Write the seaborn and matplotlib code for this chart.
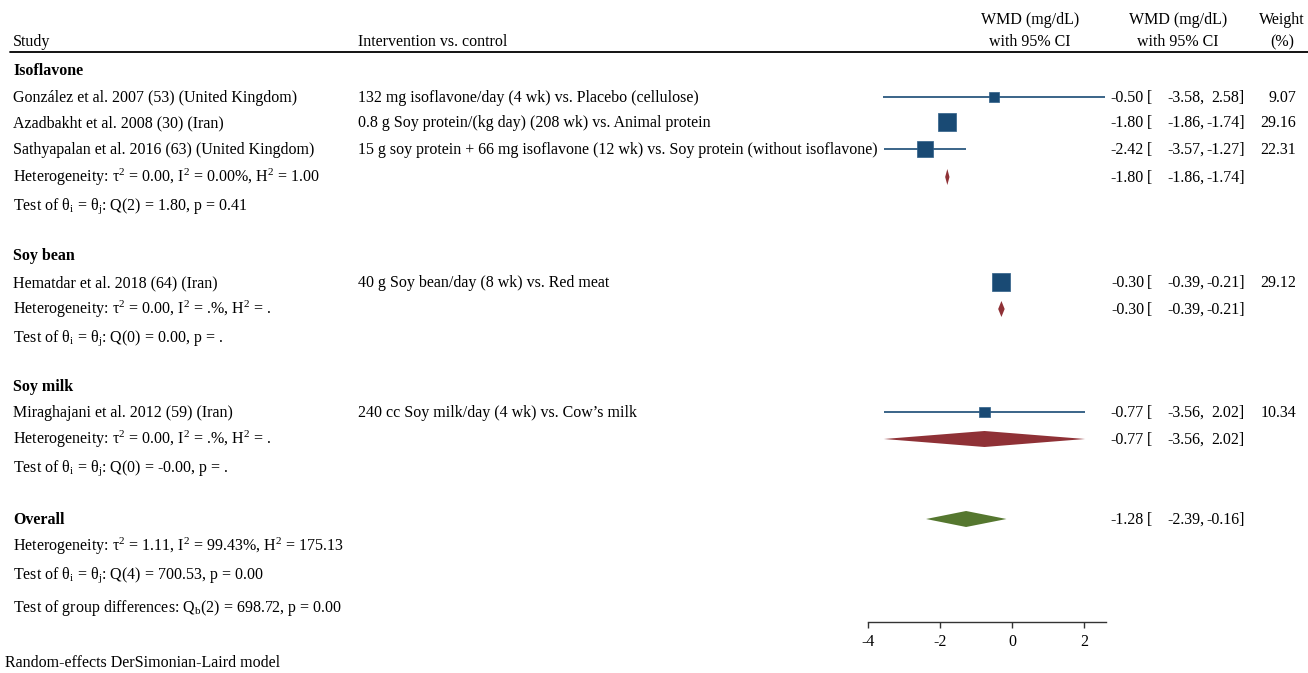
import numpy as np
import pandas as pd
import seaborn as sns
import matplotlib.pyplot as plt
from matplotlib.lines import Line2D
from matplotlib.transforms import blended_transform_factory

# --- data ---
study = ['González et al. 2007 (53) (United Kingdom)',
         'Azadbakht et al. 2008 (30) (Iran)',
         'Sathyapalan et al. 2016 (63) (United Kingdom)',
         'Hematdar et al. 2018 (64) (Iran)',
         'Miraghajani et al. 2012 (59) (Iran)']
intervention = ['132 mg isoflavone/day (4 wk) vs. Placebo (cellulose)',
                '0.8 g Soy protein/(kg day) (208 wk) vs. Animal protein',
                '15 g soy protein + 66 mg isoflavone (12 wk) vs. Soy protein (without isoflavone)',
                '40 g Soy bean/day (8 wk) vs. Red meat',
                '240 cc Soy milk/day (4 wk) vs. Cow\u2019s milk']
group = ['Isoflavone', 'Isoflavone', 'Isoflavone', 'Soy bean', 'Soy milk']
wmd = [-0.50, -1.80, -2.42, -0.30, -0.77]
lower = [-3.58, -1.86, -3.57, -0.39, -3.56]
upper = [2.58, -1.74, -1.27, -0.21, 2.02]
weight = [9.07, 29.16, 22.31, 29.12, 10.34]

sub_names = ['Isoflavone', 'Soy bean', 'Soy milk']
sub_wmd = [-1.80, -0.30, -0.77]
sub_lower = [-1.86, -0.39, -3.56]
sub_upper = [-1.74, -0.21, 2.02]
sub_het = [r'Heterogeneity: $\mathrm{\tau^2}$ = 0.00, $\mathrm{I^2}$ = 0.00%, $\mathrm{H^2}$ = 1.00',
           r'Heterogeneity: $\mathrm{\tau^2}$ = 0.00, $\mathrm{I^2}$ = .%, $\mathrm{H^2}$ = .',
           r'Heterogeneity: $\mathrm{\tau^2}$ = 0.00, $\mathrm{I^2}$ = .%, $\mathrm{H^2}$ = .']
sub_test = [r'Test of $\mathrm{\theta_i}$ = $\mathrm{\theta_j}$: Q(2) = 1.80, p = 0.41',
            r'Test of $\mathrm{\theta_i}$ = $\mathrm{\theta_j}$: Q(0) = 0.00, p = .',
            r'Test of $\mathrm{\theta_i}$ = $\mathrm{\theta_j}$: Q(0) = -0.00, p = .']

overall_wmd = -1.28
overall_lower = -2.39
overall_upper = -0.16
overall_het = r'Heterogeneity: $\mathrm{\tau^2}$ = 1.11, $\mathrm{I^2}$ = 99.43%, $\mathrm{H^2}$ = 175.13'
overall_test = r'Test of $\mathrm{\theta_i}$ = $\mathrm{\theta_j}$: Q(4) = 700.53, p = 0.00'
group_diff = r'Test of group differences: $\mathrm{Q_b}$(2) = 698.72, p = 0.00'

ticks = [-4, -2, 0, 2]

# --- row layout (vertical pixel positions) ---
group_title_y = [70, 255, 386]
study_y = [97, 122, 149, 282, 412]
sub_het_y = [177, 309, 439]
sub_test_y = [205, 337, 467]
overall_y = 519

blue = '#194a74'
red = '#8f3136'
green = '#55772f'

sns.set_style('white')
plt.rcParams['font.family'] = ['Liberation Serif', 'DejaVu Serif']
plt.rcParams['mathtext.fontset'] = 'custom'
plt.rcParams['mathtext.rm'] = 'Liberation Serif'
plt.rcParams['mathtext.it'] = 'Liberation Serif:italic'
plt.rcParams['mathtext.bf'] = 'Liberation Serif:bold'
plt.rcParams['axes.unicode_minus'] = False
plt.rcParams['text.color'] = 'black'

W, H = 1308, 673
fig = plt.figure(figsize=(W / 100, H / 100), dpi=100)
ax = fig.add_axes([868 / W, 1 - 622 / H, (1106 - 868) / W, 622 / H])
ax.set_xlim(-4, 2.6)
ax.set_ylim(622, 0)

df = pd.DataFrame({'study': study, 'wmd': wmd, 'lower': lower, 'upper': upper,
                   'weight': weight, 'y': study_y})

# CI lines
ax.hlines(df['y'], df['lower'], df['upper'], color=blue, lw=1.2, zorder=2)
# weighted squares
sns.scatterplot(data=df, x='wmd', y='y', size='weight',
                sizes=(5.76 * min(weight), 5.76 * max(weight)),
                size_norm=(min(weight), max(weight)),
                marker='s', color=blue, edgecolor='#2f5f88', linewidth=0.5,
                legend=False, ax=ax, zorder=3, clip_on=False)

def diamond(est, lo, hi, y, color, half=8):
    ax.fill([lo, est, hi, est], [y, y - half, y, y + half], color=color,
            lw=0, zorder=3, clip_on=False)

for est, lo, hi, y in zip(sub_wmd, sub_lower, sub_upper, sub_het_y):
    diamond(est, lo, hi, y, red)
diamond(overall_wmd, overall_lower, overall_upper, overall_y, green)

fs = 11.5
ax.set_xticks(ticks)
ax.set_xticklabels([str(t) for t in ticks], fontsize=fs, color='black')
ax.set_yticks([])
ax.set_xlabel('')
ax.set_ylabel('')
for s in ['top', 'left', 'right']:
    ax.spines[s].set_visible(False)
ax.spines['bottom'].set_linewidth(1.0)
ax.spines['bottom'].set_color('#333333')
ax.tick_params(axis='x', bottom=True, direction='out', length=4.5, width=1.0,
               color='#333333', pad=4)

# --- text columns ---
tr = blended_transform_factory(fig.transFigure, ax.transData)
off = 5  # baseline offset below row centre

def txt(x, y, s, ha='left', **kw):
    ax.text(x / W, y + off, s, transform=tr, ha=ha, va='baseline',
            fontsize=fs, clip_on=False, **kw)

# header
txt(13, 41, 'Study')
txt(358, 41, 'Intervention vs. control')
txt(1030, 19, 'WMD (mg/dL)', ha='center')
txt(1030, 41, 'with 95% CI', ha='center')
txt(1178, 19, 'WMD (mg/dL)', ha='center')
txt(1178, 41, 'with 95% CI', ha='center')
txt(1282, 19, 'Weight', ha='center')
txt(1282, 41, '(%)', ha='center')
fig.add_artist(Line2D([10 / W, 1], [52, 52], transform=tr, color='black', lw=1.3))

def ci_text(y, est, lo, hi):
    txt(1144, y, f'{est:.2f}', ha='right')
    txt(1147, y, '[')
    txt(1204, y, f'{lo:.2f},', ha='right')
    txt(1245, y, f'{hi:.2f}]', ha='right')

for name, y in zip(sub_names, group_title_y):
    txt(13, y, name, fontweight='bold')

for i in range(len(study)):
    y = study_y[i]
    txt(13, y, study[i])
    txt(358, y, intervention[i])
    ci_text(y, wmd[i], lower[i], upper[i])
    txt(1296, y, f'{weight[i]:.2f}', ha='right')

for i in range(len(sub_names)):
    txt(13, sub_het_y[i], sub_het[i])
    txt(13, sub_test_y[i], sub_test[i])
    ci_text(sub_het_y[i], sub_wmd[i], sub_lower[i], sub_upper[i])

txt(13, overall_y, 'Overall', fontweight='bold')
ci_text(overall_y, overall_wmd, overall_lower, overall_upper)
txt(13, 546, overall_het)
txt(13, 574, overall_test)
txt(13, 607, group_diff)

fig.text(5 / W, 1 - 667 / H, 'Random-effects DerSimonian-Laird model',
         fontsize=fs, ha='left', va='baseline')

fig.savefig('out.png', dpi=100)
